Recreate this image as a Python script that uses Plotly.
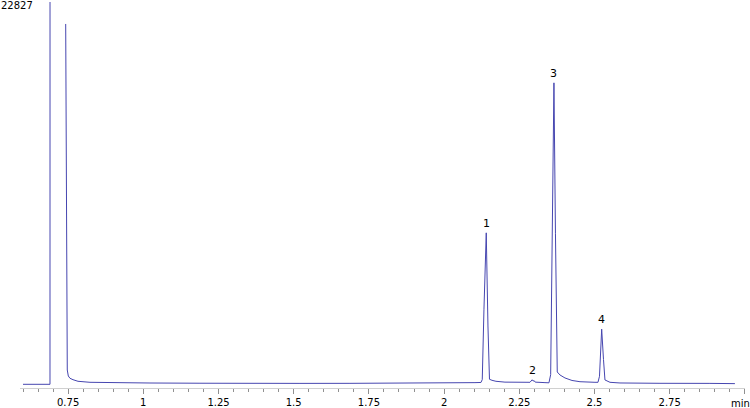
import plotly.graph_objects as go

# Chromatogram trace (time in min, signal); None = off-scale gap after the solvent spike
times = [0.600, 0.6897, 0.6921, 0.7000, 0.7419, 0.7453, 0.7472, 0.7506, 0.7562, 0.7662, 0.7828,
         0.8227, 0.8892, 1.0222, 1.1884, 1.2881, 1.3879, 1.5209, 1.6871, 1.8533, 1.9863,
         2.0694, 2.1027, 2.1226, 2.1269, 2.1326, 2.1402, 2.1459, 2.1509, 2.1592, 2.1725,
         2.2024, 2.2523, 2.2855, 2.2930, 2.2965, 2.2990, 2.3030, 2.3354, 2.3487, 2.3544,
         2.3603, 2.3653, 2.3703, 2.3763, 2.3853, 2.4019, 2.4252, 2.4518, 2.5017, 2.5117,
         2.5167, 2.5240, 2.5300, 2.5349, 2.5516, 2.5848, 2.7178, 2.7677, 2.7844, 2.8174,
         2.8507, 2.8839, 2.9670]
signal = [21, 21, 400000, None, 21516, 1071, 874, 516, 379, 295, 200,
          140, 116, 98, 85, 95, 80, 75, 78, 80, 85,
          110, 120, 130, 300, 4500, 9056, 3500, 320, 260, 200,
          150, 130, 140, 290, 210, 250, 150, 120, 110, 600,
          9000, 18005, 9000, 754, 577, 400, 250, 175, 140, 140,
          500, 3311, 1500, 280, 140, 100, 80, 85, 100, 95,
          90, 75, 60]

# Peak labels
peak_names = ["1", "2", "3", "4"]
peak_times = [2.1402, 2.2945, 2.3653, 2.5240]
peak_heights = [9056, 290, 18005, 3311]

# Axis
y_max = 22827
x_range = [0.59, 3.0005]
tick_vals = [0.75, 1.0, 1.25, 1.5, 1.75, 2.0, 2.25, 2.5, 2.75, 3.0]
tick_text = ["0.75", "1", "1.25", "1.5", "1.75", "2", "2.25", "2.5", "2.75", ""]
unit_label = "min"
unit_pos = 3.0

fig = go.Figure()
fig.add_trace(go.Scatter(
    x=times, y=signal, mode="lines", connectgaps=False,
    line=dict(color="#4646b0", width=1),
    hoverinfo="skip", showlegend=False,
))

for name, t, h in zip(peak_names, peak_times, peak_heights):
    fig.add_annotation(x=t, y=h, text=name, showarrow=False,
                       xanchor="center", yanchor="bottom", yshift=1,
                       font=dict(family="DejaVu Sans", size=11, color="#000000"))

fig.add_annotation(xref="paper", yref="paper", x=0, y=1, xshift=-21, yshift=-3,
                   xanchor="left", yanchor="middle", text=str(y_max), showarrow=False,
                   font=dict(family="DejaVu Sans", size=10, color="#000000"))

fig.add_annotation(xref="x", yref="paper", x=unit_pos, y=0, yshift=-8, xshift=-4,
                   xanchor="center", yanchor="top", text=unit_label, showarrow=False,
                   font=dict(family="DejaVu Sans", size=10, color="#000000"))

fig.update_layout(
    width=750, height=408,
    margin=dict(l=20, r=5, t=2, b=20, autoexpand=False),
    paper_bgcolor="white", plot_bgcolor="white",
    font=dict(family="DejaVu Sans", size=10, color="#000000"),
    xaxis=dict(range=x_range, tickmode="array", tickvals=tick_vals, ticktext=tick_text,
               automargin=False,
               showgrid=False, zeroline=False, showline=True, linecolor="#d0d0d0",
               linewidth=1, ticks="outside", ticklen=5, tickcolor="#909090",
               tickfont=dict(size=10, color="#000000"),
               minor=dict(dtick=0.05, tick0=0.75, ticks="outside", ticklen=3,
                          tickcolor="#909090", showgrid=False)),
    yaxis=dict(range=[-200, y_max], visible=False, automargin=False,
               showgrid=False, zeroline=False),
)

fig.write_html("out.html", config={"displayModeBar": False},
               post_script="document.body.style.margin='0';document.body.style.padding='0';")
